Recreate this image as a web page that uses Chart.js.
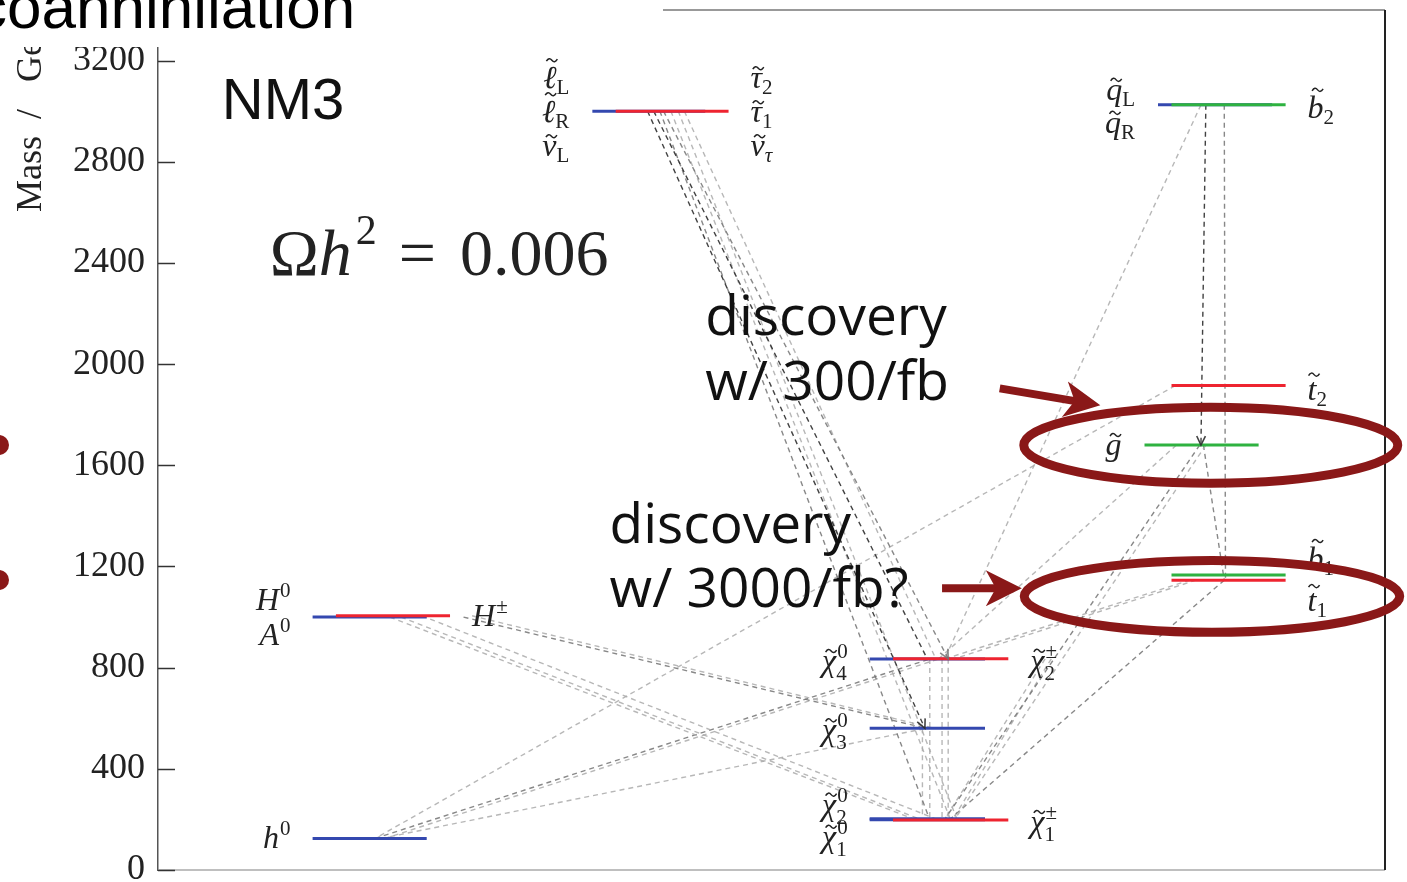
<!DOCTYPE html>
<html>
<head>
<meta charset="utf-8">
<title>NM3 mass spectrum</title>
<script src="https://cdn.jsdelivr.net/npm/chart.js@4.4.0/dist/chart.umd.min.js"></script>
<style>
  html, body { margin: 0; padding: 0; background: #fff; }
  canvas { display: block; }
</style>
</head>
<body>
<canvas id="spectrum" width="1407" height="882"></canvas>
<script>
// ---- data ---------------------------------------------------------------
var yTicks = [0, 400, 800, 1200, 1600, 2000, 2400, 2800, 3200];

// mass levels in GeV
var levelNames  = ['h0', 'H0 A0', 'H±', 'ℓL ℓR νL', 'τ2 τ1 ντ', 'χ01', 'χ02', 'χ03', 'χ04', 'χ±1', 'χ±2',
                   'qL qR', 'b2', 't2', 'g', 'b1', 't1'];
var levelMasses = [125, 1000, 1005, 3000, 3000, 199, 203, 560, 834, 198, 835,
                   3025, 3025, 1915, 1680, 1166, 1146];
var levelColumn = ['h', 'h', 'hc', 's', 'sc', 'n', 'n', 'n', 'n', 'c', 'c',
                   'q', 'q3', 'q3', 'g', 'q3', 'q3'];
var levelColour = ['blue', 'blue', 'red', 'blue', 'red', 'blue', 'blue', 'blue', 'blue', 'red', 'red',
                   'blue', 'green', 'red', 'green', 'green', 'red'];

// decays: index of parent level -> index of daughter level
var decayFrom  = [3, 3, 4, 3, 4, 3, 4,  11, 11, 11,  14, 14, 14, 14,  13,  16, 16, 16,  10, 10,  8, 10, 7, 8,  1, 1, 1, 2, 2,  0, 0, 0];
var decayTo    = [7, 8, 10, 5, 9, 6, 8,  14, 16, 8,   5, 9, 16, 8,    0,   5, 8, 10,   5, 6,   5, 9, 5, 6,  6, 5, 7, 7, 9,  8, 8, 7];
var decayShade = ['dark', 'dark', 'mid', 'mid', 'light', 'light', 'light',
                  'dark', 'mid', 'light',
                  'mid', 'light', 'mid', 'light',
                  'light',
                  'mid', 'light', 'light',
                  'light', 'light',
                  'light', 'light', 'light', 'light',
                  'light', 'light', 'mid', 'light', 'light',
                  'mid', 'light', 'light'];
var decayArrow = [true, false, true, false, false, false, false,
                  true, false, false,
                  false, false, false, false,
                  false,
                  false, false, false,
                  false, false,
                  false, false, false, false,
                  false, false, false, false, false,
                  false, false, false];

// ---- layout / style -----------------------------------------------------
var colours = { blue: 'rgb(52,72,175)', red: 'rgb(238,36,48)', green: 'rgb(46,178,64)' };
var columns = {
  h: [12.6, 21.9], hc: [14.5, 23.8],
  s: [35.4, 44.6], sc: [37.3, 46.5],
  n: [58.0, 67.4], c: [59.9, 69.3],
  q: [81.5, 90.8], q3: [82.6, 91.9], g: [80.4, 89.7]
};
var shades = { dark: 'rgba(45,45,45,0.9)', mid: 'rgba(115,115,115,0.85)', light: 'rgba(170,170,170,0.85)' };

// where each decay line leaves the parent and meets the daughter (x position on the level)
var decayAnchors = [
  [39.9, 62.5], [40.4, 62.7], [41.2, 64.4], [40.9, 62.9], [41.8, 64.6], [42.4, 65.1], [42.9, 63.4],
  [85.4, 85.0], [86.9, 87.0], [85.0, 64.1],
  [84.9, 64.1], [85.4, 64.9], [85.2, 86.9], [83.0, 63.6],
  [82.9, 17.7],
  [86.9, 64.5], [84.1, 64.1], [84.6, 64.9],
  [72.3, 64.1], [72.8, 64.8],
  [62.9, 62.9], [64.4, 64.4], [62.3, 62.3], [63.9, 63.9],
  [18.9, 61.5], [19.8, 62.2], [24.9, 62.6], [25.6, 63.3], [21.5, 63.6],
  [17.7, 62.9], [18.5, 63.6], [18.2, 62.6]
];

// particle labels next to each level (dy in px from the level line)
var levelLabels = [
  { side: 'left',  rows: [{ b: 'h', sup: '0', dy: 0 }] },
  { side: 'left',  rows: [{ b: 'H', sup: '0', dy: -17 }, { b: 'A', sup: '0', dy: 18 }] },
  { side: 'right', rows: [{ b: 'H', sup: '±', dy: 0 }] },
  { side: 'left',  rows: [{ b: 'ℓ', t: 1, sub: 'L', dy: -33 }, { b: 'ℓ', t: 1, sub: 'R', dy: 1 }, { b: 'ν', t: 1, sub: 'L', dy: 35 }] },
  { side: 'right', rows: [{ b: 'τ', t: 1, sub: '2', dy: -33 }, { b: 'τ', t: 1, sub: '1', dy: 1 }, { b: 'ν', t: 1, sub: 'τ', dy: 35 }] },
  { side: 'left',  rows: [{ b: 'χ', t: 1, sup: '0', sub: '1', dy: 17 }] },
  { side: 'left',  rows: [{ b: 'χ', t: 1, sup: '0', sub: '2', dy: -14 }] },
  { side: 'left',  rows: [{ b: 'χ', t: 1, sup: '0', sub: '3', dy: 2 }] },
  { side: 'left',  rows: [{ b: 'χ', t: 1, sup: '0', sub: '4', dy: 2 }] },
  { side: 'right', rows: [{ b: 'χ', t: 1, sup: '±', sub: '1', dy: 2 }] },
  { side: 'right', rows: [{ b: 'χ', t: 1, sup: '±', sub: '2', dy: 2 }] },
  { side: 'left',  rows: [{ b: 'q', t: 1, sub: 'L', dy: -15 }, { b: 'q', t: 1, sub: 'R', dy: 18 }] },
  { side: 'right', rows: [{ b: 'b', t: 1, sub: '2', dy: 3 }] },
  { side: 'right', rows: [{ b: 't', t: 1, sub: '2', dy: 4 }] },
  { side: 'left',  rows: [{ b: 'g', t: 1, dy: 0 }] },
  { side: 'right', rows: [{ b: 'b', t: 1, sub: '1', dy: -16 }] },
  { side: 'right', rows: [{ b: 't', t: 1, sub: '1', dy: 21 }] }
];

// annotations, in data units (x: 0-100 across the plot, y: GeV)
var notes = {
  nm3: { x: 5.2, y: 2971 },
  omega: { x: 9.1, y: 2351 },
  disc300: { x: 44.6, y: [2114, 1857], text: ['discovery', 'w/ 300/fb'] },
  disc3000: { x: 36.8, y: [1292, 1039], text: ['discovery', 'w/ 3000/fb?'] }
};
var rings = [{ x: 85.8, y: 1679, rx: 15.24, ry: 150 }, { x: 85.9, y: 1082, rx: 15.3, ry: 142 }];
var pointers = [{ from: [68.6, 1904], to: [76.8, 1837] }, { from: [63.9, 1114], to: [70.4, 1114] }];

var SERIF = '"Liberation Serif", "DejaVu Serif", serif';
var DARKRED = 'rgb(138,24,24)';

// ---- datasets -----------------------------------------------------------
var datasets = [];
levelNames.forEach(function (name, i) {
  var col = columns[levelColumn[i]];
  datasets.push({
    label: name,
    data: [{ x: col[0], y: levelMasses[i] }, { x: col[1], y: levelMasses[i] }],
    borderColor: colours[levelColour[i]],
    borderWidth: 3,
    showLine: true,
    pointRadius: 0,
    order: levelColour[i] === 'blue' ? 1 : 0
  });
});
decayFrom.forEach(function (from, k) {
  datasets.push({
    label: 'decay',
    data: [{ x: decayAnchors[k][0], y: levelMasses[from] }, { x: decayAnchors[k][1], y: levelMasses[decayTo[k]] }],
    borderColor: shades[decayShade[k]],
    borderWidth: 1.4,
    borderDash: [5, 4],
    showLine: true,
    pointRadius: 0,
    order: 2,
    arrow: decayArrow[k]
  });
});

// ---- drawing helpers ----------------------------------------------------
function drawTilde(ctx, cx, cy) {
  ctx.beginPath();
  ctx.moveTo(cx - 5.5, cy + 1);
  ctx.quadraticCurveTo(cx - 2.75, cy - 3.5, cx, cy);
  ctx.quadraticCurveTo(cx + 2.75, cy + 3.5, cx + 5.5, cy - 1);
  ctx.lineWidth = 1.5;
  ctx.strokeStyle = '#222';
  ctx.setLineDash([]);
  ctx.stroke();
}

function drawSymbol(ctx, s, x, yMid, side) {
  var big = 'italic 32px ' + SERIF, small = '21px ' + SERIF;
  ctx.font = big;
  var bw = ctx.measureText(s.b).width;
  ctx.font = small;
  var sw = Math.max(s.sub ? ctx.measureText(s.sub).width : 0, s.sup ? ctx.measureText(s.sup).width : 0);
  var w = bw + 1 + sw;
  var x0 = side === 'left' ? x - w : x;
  var base = yMid + 10;
  ctx.fillStyle = '#222';
  ctx.textAlign = 'left';
  ctx.textBaseline = 'alphabetic';
  ctx.font = big;
  ctx.fillText(s.b, x0, base);
  if (s.t) {
    var top = 'ℓbhHAd'.indexOf(s.b) >= 0 ? 28 : (s.b === 't' ? 25 : 20);
    drawTilde(ctx, x0 + bw / 2 + 2, base - top);
  }
  ctx.font = (s.sub === 'τ' ? 'italic ' : '') + small;
  if (s.sup) ctx.fillText(s.sup, x0 + bw + 1, base - 13);
  if (s.sub) ctx.fillText(s.sub, x0 + bw, base + (s.sup ? 9 : 6));
}

function drawPointer(ctx, x1, y1, x2, y2) {
  var a = Math.atan2(y2 - y1, x2 - x1), c = Math.cos(a), s = Math.sin(a);
  ctx.strokeStyle = DARKRED;
  ctx.fillStyle = DARKRED;
  ctx.lineWidth = 8;
  ctx.setLineDash([]);
  ctx.beginPath();
  ctx.moveTo(x1, y1);
  ctx.lineTo(x2 - 24 * c, y2 - 24 * s);
  ctx.stroke();
  ctx.beginPath();
  ctx.moveTo(x2, y2);
  ctx.lineTo(x2 - 36 * c + 18 * s, y2 - 36 * s - 18 * c);
  ctx.lineTo(x2 - 26 * c, y2 - 26 * s);
  ctx.lineTo(x2 - 36 * c - 18 * s, y2 - 36 * s + 18 * c);
  ctx.closePath();
  ctx.fill();
}

var decor = {
  id: 'decor',
  afterDatasetsDraw: function (chart) {
    var ctx = chart.ctx, X = chart.scales.x, Y = chart.scales.y;
    ctx.save();
    // arrow heads on the marked decays
    chart.data.datasets.forEach(function (ds, i) {
      if (!ds.arrow) return;
      var pts = chart.getDatasetMeta(i).data;
      var p0 = pts[0], p1 = pts[1];
      var a = Math.atan2(p1.y - p0.y, p1.x - p0.x);
      ctx.strokeStyle = ds.borderColor;
      ctx.lineWidth = 1.6;
      ctx.setLineDash([]);
      ctx.beginPath();
      ctx.moveTo(p1.x - 10 * Math.cos(a - 0.45), p1.y - 10 * Math.sin(a - 0.45));
      ctx.lineTo(p1.x, p1.y);
      ctx.lineTo(p1.x - 10 * Math.cos(a + 0.45), p1.y - 10 * Math.sin(a + 0.45));
      ctx.stroke();
    });
    // particle labels
    levelLabels.forEach(function (lab, i) {
      var col = columns[levelColumn[i]];
      var yy = Y.getPixelForValue(levelMasses[i]);
      var xx = lab.side === 'left' ? X.getPixelForValue(col[0]) - 22 : X.getPixelForValue(col[1]) + 22;
      lab.rows.forEach(function (r) { drawSymbol(ctx, r, xx, yy + r.dy, lab.side); });
    });
    ctx.restore();
  },
  afterDraw: function (chart) {
    var ctx = chart.ctx, X = chart.scales.x, Y = chart.scales.y, area = chart.chartArea;
    ctx.save();
    ctx.setLineDash([]);
    // frame
    ctx.lineWidth = 1.5;
    ctx.strokeStyle = '#777';
    ctx.beginPath();
    ctx.moveTo(area.left, area.top); ctx.lineTo(area.right, area.top);
    ctx.stroke();
    ctx.strokeStyle = '#aaa';
    ctx.beginPath();
    ctx.moveTo(area.left, area.bottom); ctx.lineTo(area.right, area.bottom);
    ctx.stroke();
    ctx.strokeStyle = '#222';
    ctx.lineWidth = 2;
    ctx.beginPath();
    ctx.moveTo(area.right, area.top); ctx.lineTo(area.right, area.bottom);
    ctx.stroke();
    // inward tick marks
    ctx.strokeStyle = '#333';
    ctx.lineWidth = 1.5;
    Y.ticks.forEach(function (t) {
      var yy = Math.round(Y.getPixelForValue(t.value)) + 0.5;
      ctx.beginPath();
      ctx.moveTo(area.left, yy); ctx.lineTo(area.left + 17, yy);
      ctx.stroke();
    });
    // axis title, set along the top of the axis
    ctx.save();
    ctx.translate(32, 212);
    ctx.rotate(-Math.PI / 2);
    ctx.fillStyle = '#222';
    ctx.font = '36px ' + SERIF;
    ctx.textAlign = 'left';
    ctx.textBaseline = 'middle';
    ctx.fillText('Mass', 0, 0);
    ctx.fillText('/', 93, 0);
    ctx.fillText('GeV', 130, 0);
    ctx.restore();

    // NM3 and relic density
    ctx.fillStyle = '#111';
    ctx.textAlign = 'left';
    ctx.textBaseline = 'alphabetic';
    ctx.font = '58px "Liberation Sans", Arial, sans-serif';
    ctx.fillText('NM3', X.getPixelForValue(notes.nm3.x), Y.getPixelForValue(notes.nm3.y));
    var ox = X.getPixelForValue(notes.omega.x), oy = Y.getPixelForValue(notes.omega.y);
    ctx.fillStyle = '#222';
    ctx.font = '66px ' + SERIF;
    ctx.fillText('Ω', ox, oy);
    ox += ctx.measureText('Ω').width;
    ctx.font = 'italic 66px ' + SERIF;
    ctx.fillText('h', ox, oy);
    ox += ctx.measureText('h').width + 4;
    ctx.font = '42px ' + SERIF;
    ctx.fillText('2', ox, oy - 31);
    ox += ctx.measureText('2').width + 22;
    ctx.font = '66px ' + SERIF;
    ctx.fillText('=', ox, oy);
    ox += ctx.measureText('=').width + 24;
    ctx.fillText('0.006', ox, oy);

    // discovery notes
    ctx.fillStyle = '#111';
    ctx.font = '55px "Open Sans", "Liberation Sans", sans-serif';
    [notes.disc300, notes.disc3000].forEach(function (n) {
      n.text.forEach(function (line, j) {
        ctx.fillText(line, X.getPixelForValue(n.x), Y.getPixelForValue(n.y[j]));
      });
    });

    // red rings and pointers
    ctx.strokeStyle = DARKRED;
    ctx.lineWidth = 9;
    rings.forEach(function (r) {
      var cx = X.getPixelForValue(r.x), cy = Y.getPixelForValue(r.y);
      var rx = X.getPixelForValue(r.x + r.rx) - cx, ry = cy - Y.getPixelForValue(r.y + r.ry);
      ctx.beginPath();
      ctx.ellipse(cx, cy, rx, ry, 0, 0, Math.PI * 2);
      ctx.stroke();
    });
    pointers.forEach(function (p) {
      drawPointer(ctx, X.getPixelForValue(p.from[0]), Y.getPixelForValue(p.from[1]),
                  X.getPixelForValue(p.to[0]), Y.getPixelForValue(p.to[1]));
    });

    // slide bullets peeking in from the left
    ctx.fillStyle = DARKRED;
    [445, 580].forEach(function (by) {
      ctx.beginPath();
      ctx.arc(-1, by, 10, 0, Math.PI * 2);
      ctx.fill();
    });

    // slide heading box covering the top-left corner
    ctx.fillStyle = '#fff';
    ctx.fillRect(0, 0, 663, 47);
    ctx.fillStyle = '#000';
    ctx.font = '62px "Liberation Sans", Arial, sans-serif';
    ctx.fillText('coannihilation', -24, 28);
    ctx.restore();
  }
};

new Chart(document.getElementById('spectrum'), {
  type: 'scatter',
  data: { datasets: datasets },
  options: {
    responsive: false,
    animation: false,
    devicePixelRatio: 1,
    layout: { padding: { left: 0, right: 22, top: 10, bottom: 12 } },
    plugins: { legend: { display: false }, tooltip: { enabled: false } },
    scales: {
      x: { type: 'linear', min: 0, max: 100, display: false },
      y: {
        type: 'linear',
        min: 0,
        max: 3400,
        border: { display: true, color: '#555', width: 1.5 },
        grid: { drawOnChartArea: false, drawTicks: false },
        ticks: {
          padding: 13,
          color: '#222',
          font: { family: SERIF, size: 36 },
          callback: function (v) { return String(v); }
        },
        afterBuildTicks: function (scale) {
          scale.ticks = yTicks.map(function (v) { return { value: v }; });
        },
        afterFit: function (scale) {
          scale.width = 158;
          scale.paddingTop = 0;
          scale.paddingBottom = 0;
        }
      }
    }
  },
  plugins: [decor]
});
</script>
</body>
</html>
